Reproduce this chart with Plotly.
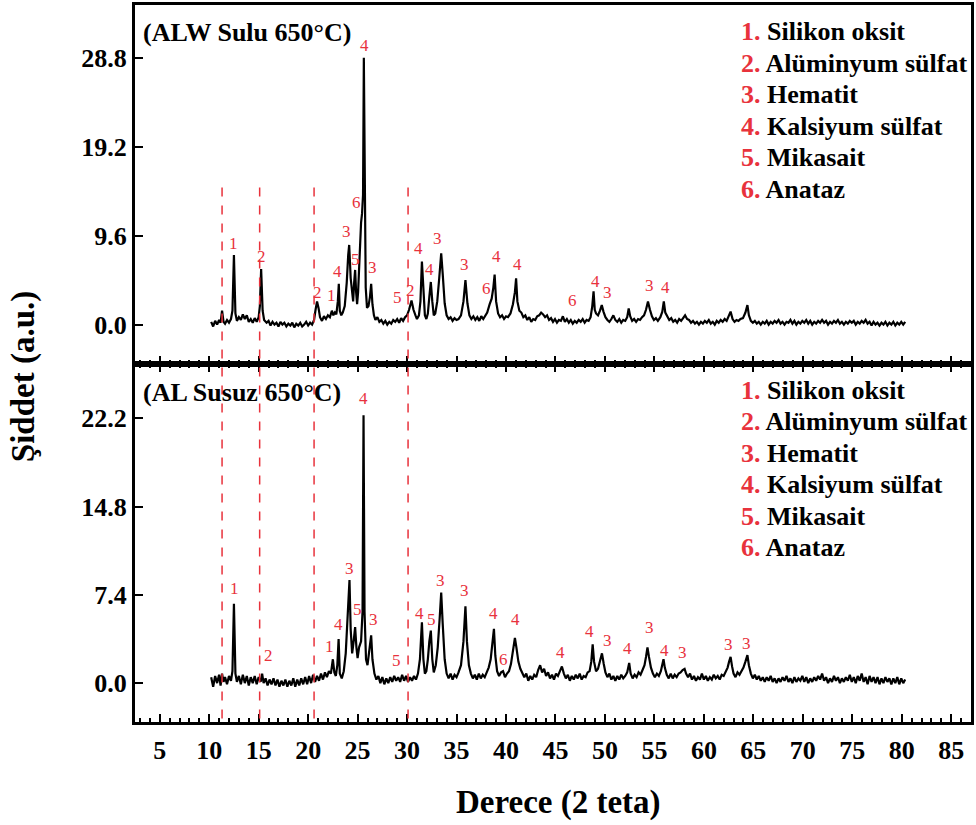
import plotly.graph_objects as go

# ---------------- data ----------------
sulu_scan = [
    (10.2, 0.3), (10.4, -0.2), (10.6, 0.4), (10.8, 0.0), (11.0, 0.5), (11.15, 0.2), (11.3, 1.5), (11.45, 0.3),
    (11.6, 0.1), (11.8, 0.5), (12.0, 0.2), (12.2, 0.6), (12.35, 1.5), (12.5, 7.5), (12.65, 1.2), (12.8, 0.4),
    (13.0, 0.8), (13.2, 0.5), (13.4, 1.1), (13.6, 0.6), (13.8, 1.0), (14.0, 0.3), (14.2, 0.6), (14.4, 0.2),
    (14.6, 0.7), (14.8, 0.3), (15.0, 0.8), (15.12, 2.0), (15.25, 6.0), (15.4, 1.5), (15.55, 0.5), (15.8, 0.2),
    (16.0, 0.4), (16.2, -0.1), (16.4, 0.3), (16.6, 0.0), (16.8, 0.2), (17.0, -0.2), (17.2, 0.3), (17.4, 0.0),
    (17.6, 0.2), (17.8, -0.2), (18.0, 0.1), (18.2, -0.1), (18.4, 0.2), (18.6, -0.3), (18.8, 0.1), (19.0, -0.1),
    (19.2, 0.2), (19.4, -0.2), (19.6, 0.0), (19.8, 0.3), (20.0, -0.1), (20.2, 0.2), (20.4, 0.0), (20.6, 0.5),
    (20.75, 1.6), (20.9, 2.5), (21.05, 1.8), (21.2, 0.8), (21.4, 0.4), (21.6, 0.9), (21.8, 0.6), (22.0, 1.0),
    (22.2, 0.8), (22.4, 1.5), (22.55, 1.0), (22.7, 1.3), (22.85, 1.1), (23.0, 2.5), (23.1, 4.4), (23.2, 1.5),
    (23.35, 1.0), (23.5, 1.3), (23.7, 2.0), (23.9, 4.5), (24.05, 7.5), (24.15, 8.6), (24.3, 5.0), (24.45, 3.0),
    (24.55, 2.5), (24.65, 4.5), (24.75, 5.9), (24.85, 3.5), (24.95, 2.2), (25.05, 3.5), (25.2, 8.0), (25.35, 11.0),
    (25.45, 12.0), (25.55, 14.0), (25.63, 28.8), (25.72, 10.0), (25.82, 4.0), (25.95, 1.8), (26.1, 2.0), (26.25, 3.0),
    (26.37, 4.4), (26.5, 2.2), (26.65, 1.0), (26.8, 0.5), (27.0, 0.8), (27.2, 0.3), (27.4, 0.5), (27.6, 0.1),
    (27.8, 0.4), (28.0, 0.0), (28.2, 0.3), (28.4, 0.1), (28.6, 0.5), (28.8, 0.3), (29.0, 0.6), (29.2, 0.2),
    (29.4, 0.7), (29.6, 0.4), (29.8, 0.8), (30.0, 1.0), (30.2, 1.6), (30.45, 2.6), (30.65, 1.6), (30.85, 1.0),
    (31.0, 0.6), (31.2, 1.0), (31.35, 2.5), (31.5, 6.8), (31.65, 3.0), (31.8, 1.0), (31.95, 0.6), (32.1, 1.2),
    (32.25, 3.0), (32.4, 4.6), (32.55, 2.5), (32.7, 1.0), (32.85, 1.2), (33.05, 2.5), (33.25, 5.0), (33.45, 7.7),
    (33.6, 5.5), (33.8, 2.3), (34.0, 1.0), (34.2, 0.6), (34.4, 0.8), (34.6, 0.4), (34.8, 0.7), (35.0, 0.5),
    (35.2, 0.6), (35.45, 1.0), (35.7, 2.5), (35.9, 4.8), (36.1, 2.3), (36.3, 1.0), (36.5, 0.6), (36.7, 0.9),
    (36.9, 0.5), (37.1, 0.8), (37.3, 0.4), (37.5, 0.9), (37.7, 0.6), (37.9, 1.0), (38.1, 1.3), (38.35, 2.2),
    (38.55, 2.8), (38.72, 4.0), (38.85, 5.4), (39.0, 2.5), (39.2, 1.2), (39.4, 0.8), (39.6, 1.0), (39.8, 0.6),
    (40.0, 0.9), (40.2, 0.8), (40.45, 1.2), (40.7, 2.2), (40.9, 3.5), (41.02, 5.0), (41.15, 2.5), (41.35, 1.5),
    (41.55, 1.3), (41.75, 0.8), (41.95, 1.0), (42.15, 0.5), (42.35, 0.8), (42.55, 0.3), (42.75, 0.6), (42.95, 0.5),
    (43.15, 0.9), (43.35, 1.0), (43.55, 1.3), (43.75, 1.1), (43.95, 0.8), (44.15, 1.0), (44.35, 0.5), (44.55, 0.7),
    (44.75, 0.3), (44.95, 0.6), (45.15, 0.2), (45.35, 0.5), (45.55, 0.4), (45.75, 0.9), (45.95, 0.3), (46.15, 0.6),
    (46.35, 0.2), (46.55, 0.5), (46.75, 0.1), (46.95, 0.4), (47.15, 0.2), (47.35, 0.5), (47.55, 0.3), (47.75, 0.6),
    (47.95, 0.2), (48.15, 0.5), (48.35, 0.4), (48.55, 0.8), (48.72, 2.0), (48.85, 3.6), (48.97, 1.6), (49.1, 1.2),
    (49.3, 1.0), (49.5, 1.5), (49.68, 2.1), (49.85, 1.4), (50.05, 0.8), (50.25, 0.5), (50.45, 0.3), (50.65, 0.6),
    (50.85, 1.0), (51.05, 0.5), (51.25, 0.3), (51.45, 0.6), (51.65, 0.2), (51.85, 0.5), (52.05, 0.4), (52.25, 0.8),
    (52.4, 1.75), (52.55, 0.9), (52.75, 0.4), (52.95, 0.6), (53.15, 0.3), (53.35, 0.6), (53.55, 0.5), (53.75, 0.8),
    (53.95, 1.0), (54.15, 1.6), (54.35, 2.5), (54.55, 1.6), (54.75, 0.9), (54.95, 0.5), (55.15, 0.7), (55.35, 0.4),
    (55.6, 0.8), (55.8, 1.4), (55.95, 2.5), (56.1, 1.3), (56.3, 0.8), (56.5, 0.5), (56.7, 0.7), (56.9, 0.3),
    (57.1, 0.5), (57.3, 0.2), (57.5, 0.6), (57.7, 0.4), (57.9, 0.7), (58.1, 1.0), (58.3, 0.6), (58.5, 0.5),
    (58.7, 0.2), (58.9, 0.4), (59.1, 0.1), (59.3, 0.3), (59.5, 0.0), (59.7, 0.3), (59.9, 0.1), (60.1, 0.4),
    (60.3, 0.2), (60.5, 0.5), (60.7, 0.1), (60.9, 0.3), (61.1, 0.0), (61.3, 0.4), (61.5, 0.2), (61.7, 0.5),
    (61.9, 0.3), (62.1, 0.6), (62.3, 0.4), (62.5, 0.9), (62.7, 1.4), (62.9, 0.6), (63.1, 0.3), (63.3, 0.5),
    (63.5, 0.4), (63.7, 0.6), (63.95, 0.7), (64.2, 1.3), (64.4, 2.1), (64.55, 1.0), (64.75, 0.4), (64.95, 0.2),
    (65.15, 0.4), (65.35, 0.1), (65.55, 0.3), (65.75, 0.0), (65.95, 0.3), (66.15, 0.1), (66.35, 0.4), (66.55, 0.0),
    (66.75, 0.3), (66.95, 0.1), (67.15, 0.4), (67.35, 0.2), (67.55, 0.5), (67.75, 0.1), (67.95, 0.3), (68.15, 0.0),
    (68.35, 0.3), (68.55, 0.2), (68.75, 0.5), (68.95, 0.1), (69.15, 0.4), (69.35, 0.0), (69.55, 0.3), (69.75, 0.1),
    (69.95, 0.4), (70.15, 0.2), (70.35, 0.5), (70.55, 0.1), (70.75, 0.4), (70.95, 0.0), (71.15, 0.3), (71.35, 0.1),
    (71.55, 0.4), (71.75, 0.2), (71.95, 0.5), (72.15, 0.2), (72.35, 0.4), (72.55, 0.0), (72.75, 0.3), (72.95, 0.1),
    (73.15, 0.4), (73.35, 0.2), (73.55, 0.5), (73.75, 0.1), (73.95, 0.3), (74.15, 0.0), (74.35, 0.3), (74.55, 0.1),
    (74.75, 0.4), (74.95, 0.2), (75.15, 0.4), (75.35, 0.0), (75.55, 0.3), (75.75, 0.1), (75.95, 0.4), (76.15, 0.2),
    (76.35, 0.5), (76.55, 0.1), (76.75, 0.3), (76.95, -0.1), (77.15, 0.3), (77.35, 0.0), (77.55, 0.2), (77.75, -0.1),
    (77.95, 0.2), (78.15, 0.0), (78.35, 0.3), (78.55, -0.1), (78.75, 0.2), (78.95, 0.0), (79.15, 0.3), (79.35, -0.1),
    (79.55, 0.2), (79.75, 0.0), (79.95, 0.3), (80.15, 0.0), (80.35, 0.3),
]

susuz_scan = [
    (10.2, 0.5), (10.4, -0.3), (10.6, 0.6), (10.8, 0.0), (11.0, 0.7), (11.15, -0.2), (11.3, 0.8), (11.45, 0.1),
    (11.6, 0.5), (11.8, -0.1), (12.0, 0.6), (12.2, 0.2), (12.35, 1.0), (12.5, 6.65), (12.65, 0.8), (12.8, 0.1),
    (13.0, 0.6), (13.2, -0.1), (13.4, 0.7), (13.6, 0.0), (13.8, 0.6), (14.0, -0.2), (14.2, 0.5), (14.4, 0.0),
    (14.6, 0.6), (14.8, -0.1), (15.0, 0.5), (15.2, 0.1), (15.35, 0.8), (15.5, 0.0), (15.7, 0.4), (15.9, -0.2),
    (16.1, 0.3), (16.3, -0.1), (16.5, 0.4), (16.7, -0.2), (16.9, 0.3), (17.1, -0.3), (17.3, 0.2), (17.5, -0.2),
    (17.7, 0.3), (17.9, -0.3), (18.1, 0.2), (18.3, -0.2), (18.5, 0.4), (18.7, -0.3), (18.9, 0.3), (19.1, -0.2),
    (19.3, 0.4), (19.5, -0.1), (19.7, 0.5), (19.9, -0.1), (20.1, 0.6), (20.3, 0.0), (20.5, 0.7), (20.7, 0.1),
    (20.9, 0.6), (21.1, 0.2), (21.3, 0.8), (21.5, 0.3), (21.7, 0.9), (21.9, 0.5), (22.1, 1.0), (22.3, 0.8),
    (22.5, 2.0), (22.65, 0.9), (22.8, 0.6), (22.95, 1.5), (23.08, 3.7), (23.2, 0.8), (23.4, 0.4), (23.6, 1.0),
    (23.8, 2.5), (23.95, 5.0), (24.1, 8.0), (24.18, 8.65), (24.3, 4.5), (24.45, 2.5), (24.6, 3.5), (24.75, 4.7),
    (24.88, 3.0), (25.0, 2.1), (25.15, 3.0), (25.35, 3.5), (25.5, 6.0), (25.6, 22.45), (25.7, 6.0), (25.85, 2.0),
    (26.0, 1.5), (26.2, 3.0), (26.37, 4.0), (26.5, 2.0), (26.7, 0.8), (26.9, 0.3), (27.1, 0.6), (27.3, 0.0),
    (27.5, 0.5), (27.7, -0.1), (27.9, 0.4), (28.1, 0.0), (28.3, 0.5), (28.5, 0.1), (28.7, 0.6), (28.9, 0.2),
    (29.1, 0.5), (29.3, 0.1), (29.5, 0.7), (29.7, 0.2), (29.9, 0.6), (30.1, 0.1), (30.3, 0.5), (30.5, 0.2),
    (30.7, 0.6), (30.9, 0.3), (31.1, 0.8), (31.3, 2.0), (31.5, 5.1), (31.65, 2.0), (31.8, 0.8), (31.95, 1.0),
    (32.1, 2.0), (32.25, 3.5), (32.4, 4.4), (32.55, 2.0), (32.7, 0.9), (32.9, 1.5), (33.1, 3.0), (33.3, 5.5),
    (33.45, 7.6), (33.6, 5.0), (33.8, 2.0), (34.0, 0.8), (34.2, 0.4), (34.4, 0.8), (34.6, 0.3), (34.8, 0.7),
    (35.0, 0.5), (35.2, 0.9), (35.45, 1.5), (35.7, 3.5), (35.9, 6.45), (36.05, 3.5), (36.25, 1.5), (36.45, 0.8),
    (36.65, 0.4), (36.85, 0.7), (37.05, 0.3), (37.25, 0.8), (37.45, 0.4), (37.65, 0.7), (37.85, 0.5), (38.05, 0.9),
    (38.25, 1.3), (38.45, 2.0), (38.62, 3.2), (38.78, 4.55), (38.92, 2.3), (39.1, 1.0), (39.3, 0.6), (39.5, 0.9),
    (39.7, 1.0), (39.9, 0.5), (40.1, 0.8), (40.3, 1.0), (40.5, 1.6), (40.7, 2.6), (40.9, 3.8), (41.05, 3.0),
    (41.25, 1.8), (41.45, 1.2), (41.65, 0.8), (41.85, 0.5), (42.05, 0.8), (42.25, 0.2), (42.45, 0.6), (42.65, 0.3),
    (42.85, 0.7), (43.05, 0.5), (43.25, 1.1), (43.45, 1.5), (43.65, 0.9), (43.85, 1.2), (44.05, 0.6), (44.25, 0.9),
    (44.45, 0.4), (44.65, 0.7), (44.85, 0.3), (45.05, 0.8), (45.25, 0.6), (45.45, 1.0), (45.65, 1.4), (45.85, 0.8),
    (46.05, 0.4), (46.25, 0.7), (46.45, 0.2), (46.65, 0.6), (46.85, 0.3), (47.05, 0.7), (47.25, 0.4), (47.45, 0.8),
    (47.65, 0.3), (47.85, 0.6), (48.05, 0.5), (48.25, 0.9), (48.45, 1.0), (48.62, 1.8), (48.76, 3.25), (48.9, 1.8),
    (49.1, 1.0), (49.3, 1.2), (49.5, 1.8), (49.7, 2.5), (49.88, 1.6), (50.05, 0.9), (50.25, 0.5), (50.45, 0.8),
    (50.65, 0.3), (50.85, 0.6), (51.05, 0.2), (51.25, 0.6), (51.45, 0.3), (51.65, 0.7), (51.85, 0.4), (52.05, 0.6),
    (52.25, 0.9), (52.45, 1.7), (52.6, 0.8), (52.8, 0.4), (53.0, 0.7), (53.2, 0.5), (53.4, 0.9), (53.6, 0.7),
    (53.8, 1.1), (54.0, 1.5), (54.15, 2.2), (54.3, 3.0), (54.45, 2.2), (54.65, 1.3), (54.85, 0.8), (55.05, 0.5),
    (55.25, 0.8), (55.45, 0.6), (55.65, 1.0), (55.8, 1.5), (55.92, 2.0), (56.05, 1.3), (56.25, 0.7), (56.45, 0.4),
    (56.65, 0.8), (56.85, 0.4), (57.05, 0.7), (57.25, 0.5), (57.45, 0.8), (57.65, 0.9), (57.85, 1.1), (58.05, 1.2),
    (58.2, 0.8), (58.4, 0.5), (58.6, 0.8), (58.8, 0.3), (59.0, 0.6), (59.2, 0.2), (59.4, 0.5), (59.6, 0.3),
    (59.8, 0.8), (60.0, 0.3), (60.2, 0.6), (60.4, 0.2), (60.6, 0.5), (60.8, 0.3), (61.0, 0.7), (61.2, 0.4),
    (61.4, 0.6), (61.6, 0.3), (61.8, 0.7), (62.0, 0.6), (62.2, 0.9), (62.4, 1.3), (62.55, 1.8), (62.7, 2.2),
    (62.85, 1.4), (63.0, 0.8), (63.2, 0.5), (63.4, 0.9), (63.6, 0.7), (63.8, 1.0), (64.0, 1.3), (64.2, 1.8),
    (64.4, 2.35), (64.55, 1.5), (64.75, 0.8), (64.95, 0.4), (65.15, 0.7), (65.35, 0.3), (65.55, 0.6), (65.75, 0.2),
    (65.95, 0.5), (66.15, 0.1), (66.35, 0.5), (66.55, 0.2), (66.75, 0.6), (66.95, 0.1), (67.15, 0.4), (67.35, 0.0),
    (67.55, 0.4), (67.75, 0.1), (67.95, 0.5), (68.15, 0.2), (68.35, 0.6), (68.55, 0.1), (68.75, 0.4), (68.95, 0.0),
    (69.15, 0.5), (69.35, 0.1), (69.55, 0.4), (69.75, 0.2), (69.95, 0.6), (70.15, 0.1), (70.35, 0.5), (70.55, 0.0),
    (70.75, 0.4), (70.95, 0.1), (71.15, 0.5), (71.35, 0.2), (71.55, 0.6), (71.75, 0.3), (71.95, 0.8), (72.15, 0.2),
    (72.35, 0.5), (72.55, 0.0), (72.75, 0.4), (72.95, 0.1), (73.15, 0.6), (73.35, 0.2), (73.55, 0.5), (73.75, 0.0),
    (73.95, 0.4), (74.15, 0.1), (74.35, 0.5), (74.55, 0.2), (74.75, 0.7), (74.95, 0.1), (75.15, 0.5), (75.35, 0.0),
    (75.55, 0.6), (75.75, 0.2), (75.95, 0.8), (76.15, 0.1), (76.35, 0.5), (76.55, -0.1), (76.75, 0.6), (76.95, 0.1),
    (77.15, 0.5), (77.35, 0.0), (77.55, 0.5), (77.75, -0.1), (77.95, 0.4), (78.15, 0.0), (78.35, 0.5), (78.55, 0.1),
    (78.75, 0.4), (78.95, -0.1), (79.15, 0.4), (79.35, 0.0), (79.55, 0.5), (79.75, -0.1), (79.95, 0.4), (80.15, 0.0),
    (80.35, 0.3),
]

x_sulu = [p[0] for p in sulu_scan]
y_sulu = [p[1] for p in sulu_scan]
x_susuz = [p[0] for p in susuz_scan]
y_susuz = [p[1] for p in susuz_scan]

# peak phase labels (position, height, phase number)
sulu_lbl_x = [12.5, 15.3, 20.9, 22.4, 23.0, 23.85, 24.75, 24.85, 25.66, 26.5, 29.0, 30.3, 31.2, 32.3, 33.1,
              35.8, 38.0, 39.05, 41.2, 46.7, 49.0, 50.3, 54.5, 56.1]
sulu_lbl_y = [8.8, 7.4, 3.5, 3.1, 5.7, 10.1, 7.0, 13.2, 30.1, 6.2, 2.9, 3.65, 8.2, 6.0, 9.3,
              6.5, 3.9, 7.4, 6.5, 2.6, 4.7, 3.5, 4.2, 4.0]
sulu_lbl_t = ["1", "2", "2", "1", "4", "3", "5", "6", "4", "3", "5", "2", "4", "4", "3",
              "3", "6", "4", "4", "6", "4", "3", "3", "4"]

susuz_lbl_x = [12.6, 16.0, 22.2, 23.1, 24.15, 24.95, 25.6, 26.6, 28.9, 31.3, 32.5, 33.4, 35.8, 38.75, 39.7,
               41.0, 45.5, 48.4, 50.3, 52.3, 54.5, 56.0, 57.8, 62.5, 64.3]
susuz_lbl_y = [7.9, 2.3, 3.1, 4.9, 9.6, 6.2, 23.9, 5.3, 1.9, 5.8, 5.3, 8.6, 7.8, 5.8, 2.0,
               5.3, 2.6, 4.3, 3.6, 2.9, 4.7, 2.7, 2.6, 3.2, 3.3]
susuz_lbl_t = ["1", "2", "1", "4", "3", "5", "4", "3", "5", "4", "5", "3", "3", "4", "6",
               "4", "4", "4", "3", "4", "3", "4", "3", "3", "3"]

phases = ["Silikon oksit", "Alüminyum sülfat", "Hematit", "Kalsiyum sülfat", "Mikasait", "Anataz"]
ref_lines = [11.3, 15.1, 20.6, 30.1]

x_dtick = 5
top_dtick = 9.6
bot_dtick = 7.4

# ---------------- figure ----------------
FONT = "Liberation Serif"
RED = "#e8323c"

fig = go.Figure()
fig.add_trace(go.Scatter(x=x_sulu, y=y_sulu, mode="lines", xaxis="x2", yaxis="y2",
                         line=dict(color="black", width=2.2), showlegend=False))
fig.add_trace(go.Scatter(x=x_susuz, y=y_susuz, mode="lines", xaxis="x", yaxis="y",
                         line=dict(color="black", width=2.2), showlegend=False))

tickfont = dict(family=FONT, size=26, color="black", weight="bold")
common_x = dict(range=[2.5, 87.0], tickmode="linear", tick0=0, dtick=x_dtick, ticks="inside", ticklen=8,
                tickwidth=2, tickcolor="black", showline=True, linewidth=3, linecolor="black", showgrid=False,
                zeroline=False,
                minor=dict(ticks="inside", ticklen=4, tickwidth=2, tickcolor="black", showgrid=False))


def y_axis(domain, rng, dt, anchor):
    return dict(domain=domain, range=rng, tickmode="linear", tick0=0, dtick=dt, tickformat=".1f",
                ticks="inside", ticklen=8, tickwidth=2, tickcolor="black", showline=True, linewidth=3,
                linecolor="black", mirror=True, showgrid=False, zeroline=False, tickfont=tickfont,
                anchor=anchor,
                minor=dict(ticks="inside", ticklen=4, tickwidth=2, tickcolor="black", showgrid=False))


fig.update_layout(
    width=976, height=825,
    margin=dict(l=135, r=3, t=2, b=103),
    paper_bgcolor="white", plot_bgcolor="white",
    xaxis=dict(**common_x, anchor="y", mirror="ticks", tickfont=tickfont, ticklabelstandoff=3),
    xaxis2=dict(**common_x, anchor="y2", matches="x", mirror=True, showticklabels=False),
    yaxis=y_axis([0, 0.5], [-3.26, 26.8], bot_dtick, "x"),
    yaxis2=y_axis([0.5, 1], [-4.2, 34.5], top_dtick, "x2"),
)

# dashed reference lines spanning both panels
for xv in ref_lines:
    fig.add_shape(type="line", xref="x", yref="paper", x0=xv, x1=xv, y0=0.005, y1=0.755,
                  line=dict(color=RED, width=1.5, dash="dash"), layer="above")

# peak labels
lbl_font = dict(family=FONT, size=17, color=RED)
for xv, yv, t in zip(sulu_lbl_x, sulu_lbl_y, sulu_lbl_t):
    fig.add_annotation(x=xv, y=yv, xref="x2", yref="y2", text=t, showarrow=False,
                       font=lbl_font, yanchor="middle")
for xv, yv, t in zip(susuz_lbl_x, susuz_lbl_y, susuz_lbl_t):
    fig.add_annotation(x=xv, y=yv, xref="x", yref="y", text=t, showarrow=False,
                       font=lbl_font, yanchor="middle")

# phase legends in each panel
legend_font = dict(family=FONT, size=26, color="black", weight="bold")
for top_y in (0.963, 0.463):
    for i, name in enumerate(phases):
        fig.add_annotation(x=0.722, y=top_y - i * 0.0440, xref="paper", yref="paper",
                           text="<span style='color:%s'>%d.</span> %s" % (RED, i + 1, name),
                           showarrow=False, xanchor="left", yanchor="middle", font=legend_font)

# panel titles
title_font = dict(family=FONT, size=26, color="black", weight="bold")
fig.add_annotation(x=0.007, y=0.961, xref="paper", yref="paper", text="(ALW Sulu 650°C)",
                   showarrow=False, xanchor="left", yanchor="middle", font=title_font)
fig.add_annotation(x=0.007, y=0.459, xref="paper", yref="paper", text="(AL Susuz 650°C)",
                   showarrow=False, xanchor="left", yanchor="middle", font=title_font)

# axis titles
axis_title_font = dict(family=FONT, size=33, color="black", weight="bold")
fig.add_annotation(x=-0.133, y=0.482, xref="paper", yref="paper", text="Şiddet (a.u.)", textangle=-90,
                   showarrow=False, xanchor="center", yanchor="middle", font=axis_title_font)
fig.add_annotation(x=0.507, y=-0.112, xref="paper", yref="paper", text="Derece (2 teta)",
                   showarrow=False, xanchor="center", yanchor="middle", font=axis_title_font)

fig.write_html("out.html")
